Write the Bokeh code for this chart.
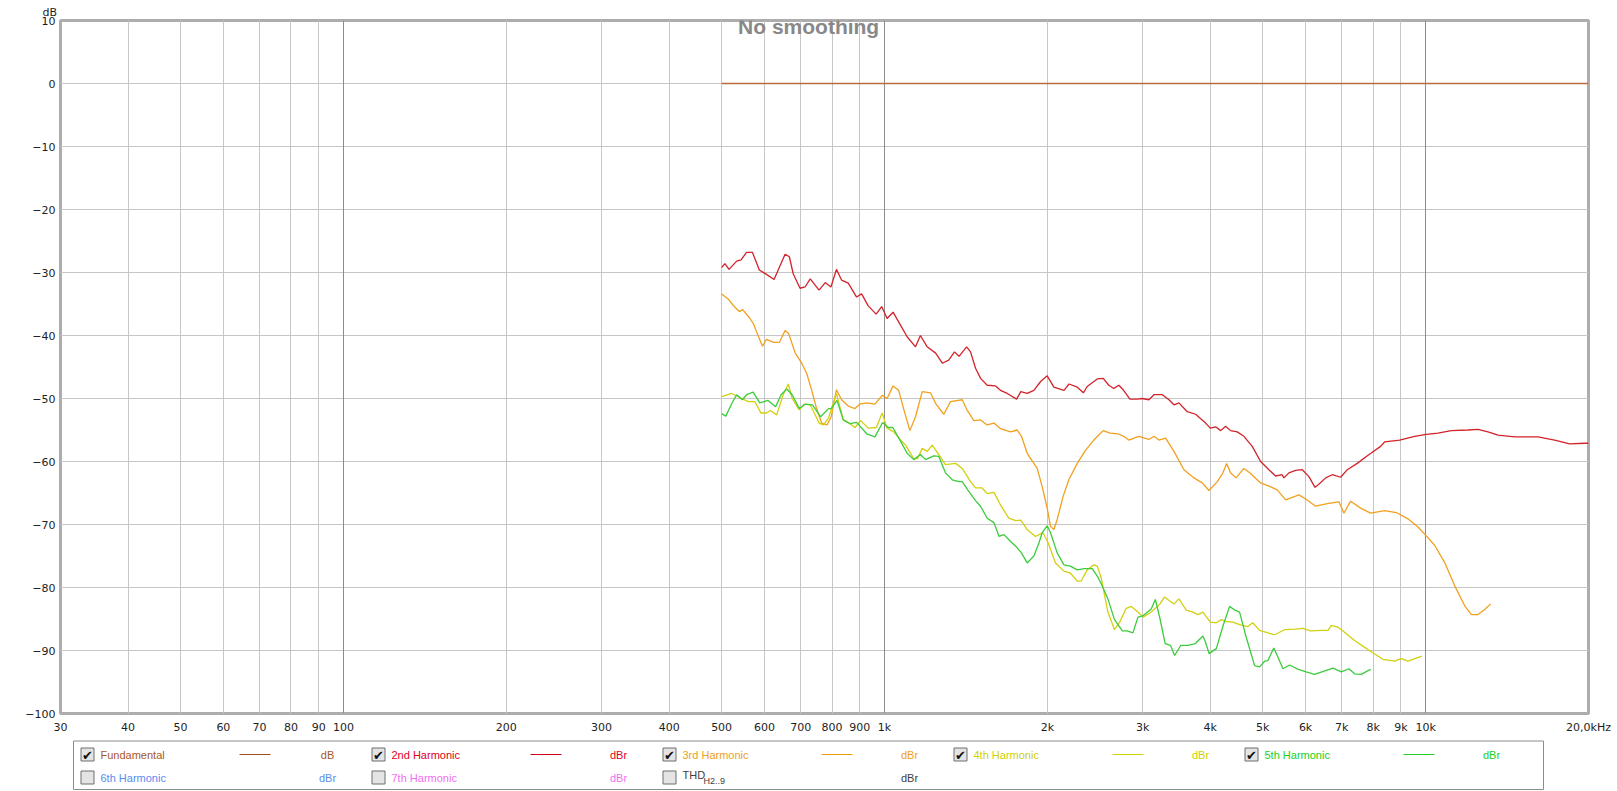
from bokeh.plotting import figure
from bokeh.models import Range1d, FixedTicker, Grid, Label, ColumnDataSource
from bokeh.layouts import column
from bokeh.embed import file_html
from bokeh.resources import INLINE
from bokeh.core.properties import value

# ---------------- data ----------------
x_ticks = [30, 40, 50, 60, 70, 80, 90, 100, 200, 300, 400, 500, 600, 700, 800, 900,
           1000, 2000, 3000, 4000, 5000, 6000, 7000, 8000, 9000, 10000, 20000]
x_tick_labels = ["30", "40", "50", "60", "70", "80", "90", "100", "200", "300", "400",
                 "500", "600", "700", "800", "900", "1k", "2k", "3k", "4k", "5k", "6k",
                 "7k", "8k", "9k", "10k", "20,0kHz"]
decade_ticks = [100, 1000, 10000]
y_ticks = [-100, -90, -80, -70, -60, -50, -40, -30, -20, -10, 0, 10]

fundamental = [(500, 0.0), (20000, 0.0)]

harmonic2 = [
    (500, -29.2), (507, -28.6), (516, -29.5), (533, -28.2), (543, -28.0), (556, -26.8),
    (570, -26.8), (587, -29.6), (605, -30.3), (625, -31.1), (642, -28.8), (655, -27.1),
    (667, -27.5), (678, -30.2), (698, -32.5), (713, -32.3), (729, -31.0), (757, -32.8),
    (777, -31.6), (796, -32.3), (815, -29.5), (833, -31.2), (857, -31.7), (888, -33.9),
    (907, -33.4), (933, -35.3), (965, -36.6), (988, -35.4), (1011, -37.3), (1037, -36.3),
    (1071, -38.4), (1101, -40.2), (1141, -41.8), (1165, -40.0), (1199, -41.8), (1243, -42.8),
    (1279, -44.4), (1314, -43.9), (1347, -42.6), (1373, -43.3), (1418, -41.8), (1442, -42.6),
    (1473, -45.2), (1505, -46.8), (1548, -47.9), (1604, -48.0), (1638, -48.7), (1686, -49.2),
    (1754, -50.1), (1786, -48.9), (1835, -49.2), (1888, -48.7), (1943, -47.3), (1998, -46.4),
    (2056, -48.2), (2146, -48.7), (2193, -47.7), (2271, -48.2), (2331, -49.1), (2369, -48.1),
    (2473, -46.9), (2536, -46.8), (2598, -47.9), (2652, -48.4), (2711, -47.9), (2766, -48.7),
    (2841, -50.1), (2931, -50.1), (2993, -50.0), (3081, -50.2), (3147, -49.4), (3261, -49.4),
    (3355, -50.2), (3427, -51.0), (3500, -50.7), (3627, -52.1), (3758, -52.5), (3921, -53.9),
    (4000, -54.7), (4091, -54.5), (4180, -55.1), (4269, -54.4), (4360, -55.1), (4486, -55.3),
    (4615, -56.0), (4782, -57.6), (4955, -60.0), (5133, -61.3), (5280, -62.3), (5430, -62.1),
    (5471, -62.6), (5590, -61.8), (5751, -61.4), (5916, -61.3), (6087, -62.4), (6245, -64.1),
    (6333, -63.7), (6535, -62.6), (6723, -62.1), (6966, -62.5), (7166, -61.3), (7474, -60.3),
    (7862, -58.9), (8256, -57.6), (8398, -56.9), (8953, -56.6), (9544, -56.0), (10030, -55.7),
    (10540, -55.5), (11154, -55.1), (11975, -55.0), (12497, -54.9), (13040, -55.3),
    (13606, -55.8), (14604, -56.1), (16130, -56.1), (17318, -56.6), (18460, -57.2),
    (19674, -57.1), (20000, -57.1)]

harmonic3 = [
    (500, -33.4), (514, -34.2), (525, -35.2), (539, -36.2), (547, -35.9), (564, -37.3),
    (573, -38.2), (583, -39.9), (595, -41.7), (605, -40.6), (624, -41.1), (639, -41.1),
    (655, -39.2), (665, -39.7), (684, -42.8), (703, -44.4), (718, -46.0), (733, -48.6),
    (749, -51.6), (765, -53.9), (783, -54.2), (797, -52.9), (815, -48.6), (833, -50.2),
    (857, -51.2), (882, -51.6), (900, -50.9), (927, -50.7), (960, -50.9), (990, -49.5),
    (1011, -50.0), (1037, -48.0), (1062, -48.7), (1086, -51.8), (1114, -55.1), (1141, -52.9),
    (1174, -48.9), (1216, -49.1), (1243, -50.8), (1287, -52.5), (1324, -50.5), (1392, -50.2),
    (1420, -51.8), (1463, -53.5), (1505, -53.4), (1548, -54.2), (1593, -53.9), (1638, -54.8),
    (1710, -55.3), (1759, -55.0), (1791, -56.0), (1835, -58.7), (1915, -61.1), (1956, -64.0),
    (1998, -67.4), (2027, -70.3), (2056, -70.8), (2085, -69.2), (2139, -65.5), (2191, -62.9),
    (2271, -60.3), (2353, -58.2), (2437, -56.6), (2536, -55.1), (2611, -55.5), (2700, -55.6),
    (2766, -56.0), (2828, -56.6), (2951, -56.0), (3081, -56.5), (3147, -56.0), (3215, -56.6),
    (3307, -56.3), (3427, -58.4), (3576, -61.3), (3732, -62.6), (3866, -63.4), (3978, -64.6),
    (4122, -63.2), (4221, -61.8), (4288, -60.3), (4360, -61.8), (4463, -62.6), (4615, -61.1),
    (4730, -61.8), (4955, -63.4), (5133, -63.9), (5318, -64.5), (5512, -66.1), (5834, -65.3),
    (6042, -66.1), (6261, -67.1), (6581, -66.7), (6916, -66.4), (7064, -68.2), (7268, -66.3),
    (7584, -67.4), (7911, -68.2), (8256, -67.9), (8398, -67.8), (8828, -68.1), (9276, -69.1),
    (9678, -70.4), (10030, -71.8), (10390, -73.3), (10840, -76.0), (11314, -79.7),
    (11810, -82.9), (12150, -84.3), (12497, -84.3), (12857, -83.5), (13190, -82.6)]

harmonic4 = [
    (500, -49.7), (522, -49.2), (539, -49.8), (560, -50.5), (576, -50.5), (591, -52.3),
    (605, -52.3), (615, -51.9), (632, -52.6), (651, -49.2), (664, -47.7), (675, -50.0),
    (696, -51.8), (711, -50.9), (729, -51.0), (757, -53.9), (771, -54.2), (788, -53.1),
    (815, -49.2), (839, -53.4), (857, -53.8), (882, -54.6), (903, -53.5), (933, -54.7),
    (966, -54.6), (990, -52.3), (1011, -54.7), (1040, -55.3), (1071, -56.6), (1094, -57.4),
    (1133, -59.6), (1152, -59.5), (1174, -57.9), (1199, -58.4), (1225, -57.4), (1260, -58.9),
    (1296, -60.5), (1353, -60.3), (1392, -61.1), (1442, -63.2), (1473, -64.2), (1515, -64.2),
    (1548, -65.1), (1593, -64.9), (1638, -66.9), (1697, -69.0), (1747, -69.4), (1786, -69.3),
    (1835, -70.8), (1901, -71.9), (1963, -71.3), (2006, -72.9), (2070, -76.1), (2146, -77.4),
    (2205, -77.7), (2271, -79.0), (2307, -79.0), (2369, -77.2), (2437, -76.4), (2473, -76.6),
    (2515, -78.5), (2587, -83.9), (2661, -86.7), (2720, -85.5), (2797, -83.3), (2858, -83.0),
    (2940, -83.9), (3004, -84.7), (3111, -83.9), (3230, -82.6), (3293, -81.5), (3362, -82.1),
    (3430, -82.6), (3500, -81.8), (3611, -83.6), (3716, -83.9), (3795, -84.3), (3877, -83.9),
    (4000, -85.5), (4104, -85.6), (4192, -85.1), (4283, -85.4), (4405, -85.5), (4531, -85.9),
    (4694, -86.2), (4792, -85.6), (4934, -86.8), (5111, -87.2), (5256, -87.5), (5489, -86.7),
    (5729, -86.6), (5935, -86.5), (6130, -86.9), (6415, -86.8), (6601, -86.8), (6693, -86.0),
    (6887, -86.3), (7037, -86.9), (7393, -88.4), (7716, -89.5), (8000, -90.4), (8338, -91.4),
    (8765, -91.7), (9016, -91.3), (9276, -91.7), (9611, -91.2), (9845, -90.9)]

harmonic5 = [
    (500, -52.4), (509, -52.8), (522, -50.8), (533, -49.4), (546, -50.2), (556, -49.4),
    (572, -49.0), (588, -50.7), (609, -50.3), (629, -51.3), (644, -49.4), (660, -48.5),
    (675, -49.4), (696, -51.6), (713, -50.9), (736, -51.0), (762, -52.9), (788, -51.6),
    (797, -51.6), (817, -50.3), (839, -53.4), (863, -54.0), (888, -53.8), (927, -55.6),
    (960, -56.1), (992, -53.8), (1015, -54.6), (1036, -54.6), (1071, -56.8), (1101, -58.7),
    (1133, -59.7), (1165, -58.9), (1191, -59.7), (1233, -59.1), (1260, -59.2), (1296, -61.8),
    (1334, -62.9), (1373, -63.2), (1392, -63.2), (1425, -64.5), (1473, -66.2), (1505, -67.1),
    (1548, -69.0), (1593, -69.7), (1628, -71.9), (1662, -71.6), (1710, -72.7), (1759, -73.7),
    (1791, -74.5), (1835, -76.1), (1888, -75.0), (1930, -72.9), (1956, -71.3), (1998, -70.2),
    (2027, -71.3), (2085, -74.5), (2146, -76.4), (2205, -76.6), (2271, -77.2), (2339, -77.0),
    (2420, -77.0), (2473, -78.2), (2515, -79.4), (2587, -81.8), (2661, -85.1), (2751, -86.9),
    (2808, -86.9), (2878, -87.2), (2940, -84.7), (3004, -84.5), (3111, -83.4), (3166, -81.9),
    (3230, -85.0), (3301, -88.9), (3378, -89.2), (3437, -90.8), (3526, -89.2), (3637, -89.2),
    (3754, -88.9), (3877, -87.7), (3920, -88.7), (3980, -90.5), (4104, -89.7), (4226, -86.0),
    (4343, -83.0), (4443, -83.6), (4531, -83.9), (4661, -87.9), (4830, -92.4), (4934, -92.6),
    (5042, -91.7), (5111, -91.6), (5240, -89.6), (5331, -91.0), (5450, -92.9), (5605, -92.3),
    (5816, -93.0), (6018, -93.4), (6235, -93.8), (6470, -93.3), (6741, -92.8), (6986, -93.4),
    (7213, -92.9), (7393, -93.7), (7605, -93.8), (7827, -93.2), (7918, -93.0)]

series_colors = ["#bc6c3c", "#d2232a", "#f2a020", "#d2d010", "#3ccc3c"]

legend_names = ["Fundamental", "2nd Harmonic", "3rd Harmonic", "4th Harmonic", "5th Harmonic",
                "6th Harmonic", "7th Harmonic", "THD"]
legend_units = ["dB", "dBr", "dBr", "dBr", "dBr", "dBr", "dBr", "dBr"]
legend_checked = [True, True, True, True, True, False, False, False]
legend_text_colors = ["#a8581e", "#e0001a", "#f0a020", "#d0d000", "#20d020",
                      "#5a8cf0", "#f070f0", "#404040"]
legend_line_colors = ["#a0501a", "#d00018", "#f0a000", "#d0d000", "#20d020"]

# ---------------- main chart ----------------
W = 1612
FRAME_L, FRAME_W = 60, 1528
p = figure(width=W, height=736, x_axis_type="log",
           x_range=Range1d(30, 20000), y_range=Range1d(-100, 10),
           output_backend="svg", toolbar_location=None,
           min_border_left=FRAME_L, min_border_right=W - FRAME_L - FRAME_W, min_border_top=20,
           min_border_bottom=22,
           background_fill_color="white", border_fill_color="white")

p.title.text = "dB"
p.title.align = "left"
p.title.offset = -18
p.title.standoff = 4
p.title.text_font = "DejaVu Sans"
p.title.text_font_size = "11px"
p.title.text_font_style = "normal"
p.title.text_color = "#1e1e1e"

p.xaxis.ticker = FixedTicker(ticks=x_ticks, minor_ticks=[])
p.xaxis.major_label_overrides = {t: lab for t, lab in zip(x_ticks, x_tick_labels)}
p.yaxis.ticker = FixedTicker(ticks=y_ticks, minor_ticks=[])
for ax in (p.xaxis, p.yaxis):
    ax.axis_line_color = None
    ax.major_tick_line_color = None
    ax.minor_tick_line_color = None
    ax.major_tick_out = 0
    ax.major_tick_in = 0
    ax.minor_tick_out = 0
    ax.minor_tick_in = 0
    ax.major_label_text_font = "DejaVu Sans"
    ax.major_label_text_font_size = "11px"
    ax.major_label_text_color = "#1e1e1e"
p.xaxis.major_label_standoff = 7
p.yaxis.major_label_standoff = 5

p.xgrid.grid_line_color = "#c6c6c6"
p.ygrid.grid_line_color = "#c6c6c6"
p.add_layout(Grid(dimension=0, ticker=FixedTicker(ticks=decade_ticks),
                  grid_line_color="#8c8c8c", grid_line_width=1))

p.outline_line_color = "#adadad"
p.outline_line_width = 3

all_series = [fundamental, harmonic2, harmonic3, harmonic4, harmonic5]
for pts, col in zip(all_series, series_colors):
    fx, fy = zip(*pts)
    src = ColumnDataSource(dict(f=list(fx), db=list(fy)))
    p.line("f", "db", source=src, line_color=col, line_width=1.3)

p.add_layout(Label(x=724, y=9.05, text="No smoothing", text_align="center",
                   text_baseline="alphabetic", text_font="Liberation Sans",
                   text_font_style="bold", text_font_size="21px", text_color="#888888"))

# ---------------- legend panel ----------------
# The legend panel's frame is aligned with the chart frame, so its x range is
# expressed in page pixels spanning the same horizontal extent.
LH = 55
lg = figure(width=W, height=LH, x_range=Range1d(FRAME_L, FRAME_L + FRAME_W),
            y_range=Range1d(LH, 0),
            output_backend="svg", toolbar_location=None, min_border=0,
            x_axis_location=None, y_axis_location=None,
            background_fill_color="white", border_fill_color="white")
lg.grid.visible = False
lg.outline_line_color = None

lg.quad(left=[73], right=[1543], top=[4.5], bottom=[53], fill_color=None,
        line_color="#8c8c8c", line_width=1)

col_step = 291
row_y = [18, 41]
cb_x, cb_y = [], []
tx, ty, tt, tc = [], [], [], []
ux, uy, ut, uc = [], [], [], []
mx, my = [], []
lx0, lx1, ly, lc = [], [], [], []
for i, name in enumerate(legend_names):
    r, c = divmod(i, 5)
    x0 = c * col_step
    y = row_y[r]
    cb_x.append(87 + x0)
    cb_y.append(y)
    if legend_checked[i]:
        mx.append(87 + x0)
        my.append(y + 1)
    if name != "THD":
        tx.append(100 + x0)
        ty.append(y)
        tt.append(name)
        tc.append(legend_text_colors[i])
    ux.append(327 + x0)
    uy.append(y)
    ut.append(legend_units[i])
    uc.append(legend_text_colors[i])
    if i < len(legend_line_colors):
        lx0.append(239 + x0)
        lx1.append(270 + x0)
        ly.append(y)
        lc.append(legend_line_colors[i])

lg.rect(x=cb_x, y=cb_y, width=13, height=13, fill_color="#e4e4e4",
        line_color="#6e6e6e", line_width=1)
lg.text(x=mx, y=my, text=["\u2714"] * len(mx), text_font=value("DejaVu Sans"),
        text_font_size="13px", text_color="#111111", text_align="center",
        text_baseline="middle")
lg.text(x=tx, y=ty, text=tt, text_color=tc, text_font=value("Liberation Sans"),
        text_font_size="11px", text_align="left", text_baseline="middle")
lg.text(x=ux, y=uy, text=ut, text_color=uc, text_font=value("Liberation Sans"),
        text_font_size="11px", text_align="center", text_baseline="middle")
lg.segment(x0=lx0, y0=ly, x1=lx1, y1=ly, line_color=lc, line_width=1.2)

thd_x = 100 + 2 * col_step
lg.text(x=[thd_x], y=[row_y[1] - 3], text=["THD"], text_color="#404040",
        text_font=value("Liberation Sans"), text_font_size="11px",
        text_align="left", text_baseline="middle")
lg.text(x=[thd_x + 21], y=[row_y[1] + 3], text=["H2..9"], text_color="#404040",
        text_font=value("Liberation Sans"), text_font_size="9px",
        text_align="left", text_baseline="middle")

layout = column(p, lg)
open("out.html", "w").write(file_html(layout, INLINE))
